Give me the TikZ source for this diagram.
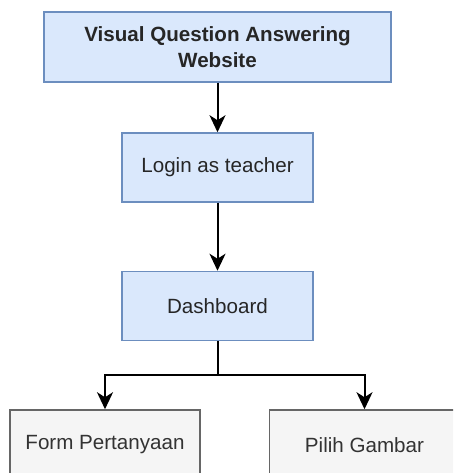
\documentclass[tikz,border=0pt]{standalone}
\usepackage{fontspec}
\setmainfont{Liberation Sans}
\usetikzlibrary{shapes,arrows.meta,positioning,calc}
\definecolor{BoxBlue}{HTML}{DAE8FC}
\definecolor{EdgeBlue}{HTML}{6C8EBF}
\definecolor{BoxGray}{HTML}{F5F5F5}
\definecolor{EdgeGray}{HTML}{666666}
\definecolor{TextGray}{HTML}{333333}

\tikzset{
  bluebox/.style={draw=EdgeBlue, fill=BoxBlue, line width=1.5pt, minimum width=191pt, minimum height=69pt, font=\fontsize{20.6}{26}\selectfont, text=black!85},
  graybox/.style={draw=EdgeGray, fill=BoxGray, line width=1.5pt, minimum width=190pt, minimum height=70pt, font=\fontsize{20.6}{26}\selectfont, text=TextGray},
  conn/.style={line width=2pt, -{Stealth[length=17pt,width=16pt,inset=5pt]}}
}

\begin{document}
\begin{tikzpicture}[x=1pt, y=1pt]
  \useasboundingbox (0,0) rectangle (453,473);
  \clip (0,0) rectangle (453,473);

  % main column
  \node[bluebox, minimum width=347pt, minimum height=70pt, align=center, font=\fontsize{20.6}{26}\selectfont\bfseries] (site) at (217.5, 426) {Visual Question Answering\\Website};
  \node[bluebox] (login) at (217.5, 305.5) {Login as teacher};
  \node[bluebox] (dash) at (217.5, 167) {Dashboard};

  % two pages below the dashboard
  \node[graybox] (form) at (105, 28) {Form Pertanyaan};
  \node[graybox] (pilih) at (364.5, 28) {Pilih Gambar};

  \draw[conn] (site) -- (login);
  \draw[conn] (login) -- (dash);

  \coordinate (split) at (217.5, 98);
  \draw[conn] (dash.south) -- (split) -| (form.north);
  \draw[conn] (dash.south) -- (split) -| (pilih.north);
\end{tikzpicture}
\end{document}
